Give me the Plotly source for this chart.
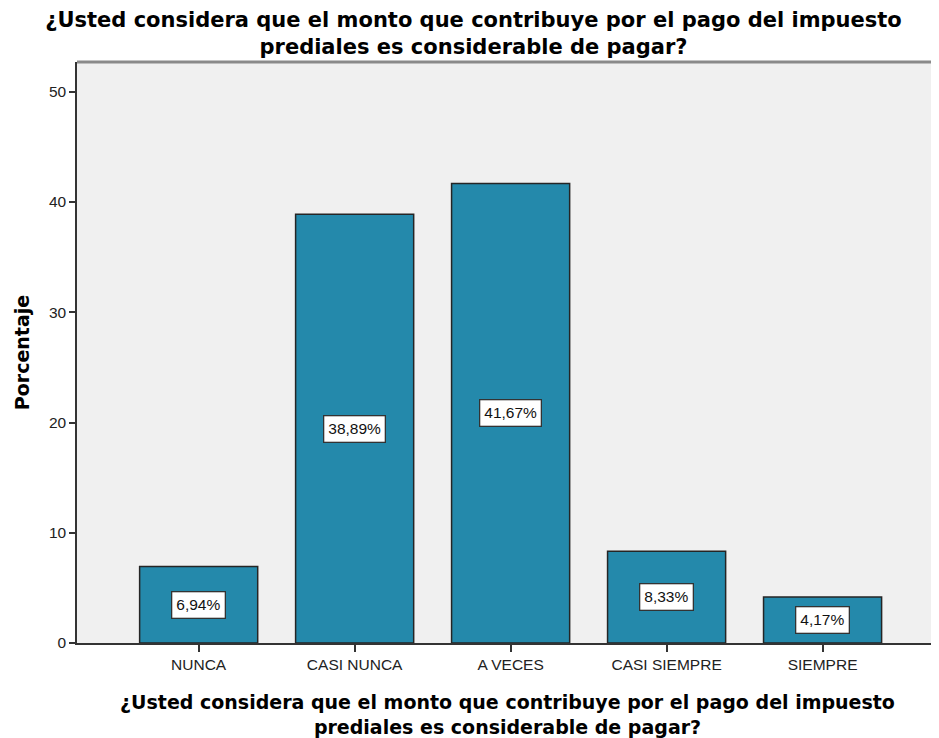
import plotly.graph_objects as go

categories = ["NUNCA", "CASI NUNCA", "A VECES", "CASI SIEMPRE", "SIEMPRE"]
percentages = [6.94, 38.89, 41.67, 8.33, 4.17]
value_labels = ["6,94%", "38,89%", "41,67%", "8,33%", "4,17%"]
y_ticks = [0, 10, 20, 30, 40, 50]

QUESTION = "¿Usted considera que el monto que contribuye por el pago del impuesto<br>prediales es considerable de pagar?"
BAR_COLOR = "#2489ab"
EDGE = "#252525"
SANS = "Liberation Sans, Arial, sans-serif"
WIDE_BOLD = "DejaVu Sans, Verdana, sans-serif"

# the page puts an 8px body margin around the figure, so size it 8px smaller
W, H = 931, 730

fig = go.Figure()
fig.add_trace(
    go.Bar(
        x=list(range(len(categories))),
        y=percentages,
        width=0.757,
        marker=dict(color=BAR_COLOR, line=dict(color=EDGE, width=1.5)),
        hoverinfo="skip",
    )
)

for i, (v, lab) in enumerate(zip(percentages, value_labels)):
    fig.add_annotation(
        x=i, y=v / 2, text=lab, showarrow=False,
        font=dict(family=SANS, size=15.5, color="#111111"),
        bgcolor="white", bordercolor="#333333", borderwidth=1.3, borderpad=4,
    )

fig.update_layout(
    width=W,
    height=H,
    paper_bgcolor="white",
    plot_bgcolor="#f0f0f0",
    margin=dict(l=69, r=1, t=54, b=95),
    showlegend=False,
    title=dict(
        text=QUESTION,
        x=0.5, xanchor="center", y=1 - 19 / H, yanchor="middle",
        font=dict(family=WIDE_BOLD, size=21, color="#000000", weight="bold"),
    ),
    font=dict(family=SANS, color="#222222"),
)

fig.update_xaxes(
    range=[-0.78, 4.74],
    automargin=False,
    tickmode="array",
    tickvals=list(range(len(categories))),
    ticktext=categories,
    ticks="outside", ticklen=7, tickcolor="#333333", tickwidth=1.5,
    tickfont=dict(size=15.5, color="#222222"),
    showline=True, linecolor="#333333", linewidth=1.5,
    showgrid=False, zeroline=False,
    title=dict(
        text=QUESTION, standoff=28,
        font=dict(family=WIDE_BOLD, size=19, color="#000000", weight="bold"),
    ),
)
fig.update_yaxes(
    range=[0, 52.7],
    automargin=False,
    tickmode="array", tickvals=y_ticks,
    ticks="outside", ticklen=6, tickcolor="#333333", tickwidth=1.5,
    tickfont=dict(size=15.5, color="#222222"),
    showline=True, linecolor="#333333", linewidth=1.5,
    showgrid=False, zeroline=False,
    title=dict(
        text="Porcentaje", standoff=14,
        font=dict(family=WIDE_BOLD, size=19, color="#000000", weight="bold"),
    ),
)

# gray top border of plot area
fig.add_shape(type="line", xref="paper", yref="paper", x0=0, x1=1, y0=1, y1=1,
              line=dict(color="#8a8a8a", width=3))

fig.write_html("out.html")
